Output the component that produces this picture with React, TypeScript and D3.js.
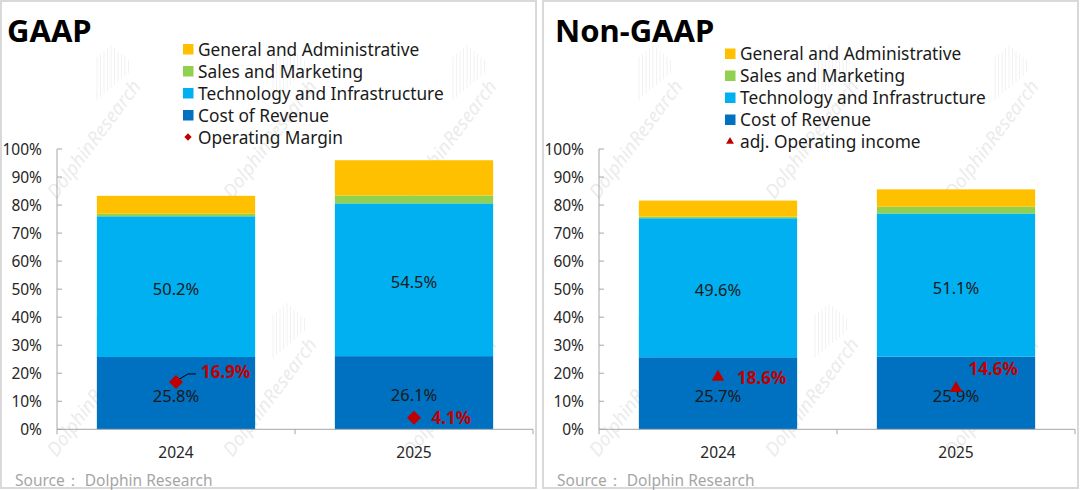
import { useEffect } from "react";
import * as d3 from "d3";

const categories = ["2024", "2025"];
const tickValues = [0, 10, 20, 30, 40, 50, 60, 70, 80, 90, 100];
const seriesNames = [
  "General and Administrative",
  "Sales and Marketing",
  "Technology and Infrastructure",
  "Cost of Revenue",
];
const seriesColors = ["#ffc000", "#92d050", "#00b0f0", "#0070c0"];

// GAAP, % of revenue
const gaapCost = [25.8, 26.1];
const gaapTech = [50.2, 54.5];
const gaapSales = [0.9, 2.8];
const gaapAdmin = [6.4, 12.6];
const gaapMargin = [16.9, 4.1];

// Non-GAAP, % of revenue
const nonGaapCost = [25.7, 25.9];
const nonGaapTech = [49.6, 51.1];
const nonGaapSales = [0.6, 2.4];
const nonGaapAdmin = [5.7, 6.2];
const nonGaapMargin = [18.6, 14.6];

const FONT = "'Noto Sans', 'DejaVu Sans', sans-serif";
const RED = "#c00000";

type PanelProps = {
  x0: number;
  title: string;
  marginName: string;
  marker: "diamond" | "triangle";
  cost: number[];
  tech: number[];
  sales: number[];
  admin: number[];
  margin: number[];
  labelOffsets: [number, number][];
  leader: boolean[];
  legendY: number;
};

function Panel(p: PanelProps) {
  const x = d3.scaleBand<string>().domain(categories).range([57, 533]).paddingInner(0.335).paddingOuter(0.1675);
  const y = d3.scaleLinear().domain([0, 100]).range([429.3, 149]);

  const rows = categories.map((c, i) => ({
    cat: c,
    values: [p.cost[i], p.tech[i], p.sales[i], p.admin[i]],
  }));
  // bottom-up order: cost, tech, sales, admin
  const stackColors = [seriesColors[3], seriesColors[2], seriesColors[1], seriesColors[0]];
  const stack = d3.stack<{ cat: string; values: number[] }, number>()
    .keys([0, 1, 2, 3])
    .value((d, k) => d.values[k]);
  const layers = stack(rows);

  const markerPath = p.marker === "diamond"
    ? d3.symbol(d3.symbolDiamond2, 125)()
    : d3.symbol(d3.symbolTriangle2, 115)();
  const legendMarker = p.marker === "diamond"
    ? d3.symbol(d3.symbolDiamond2, 34)()
    : d3.symbol(d3.symbolTriangle2, 44)();

  const legendItems = [...seriesNames, p.marginName];

  return (
    <g transform={`translate(${p.x0},0)`}>
      <rect x={1} y={1} width={535} height={487} fill="#fff" stroke="#d9d9d9" strokeWidth={2} />

      {/* watermark */}
      <g fill="#ececec" fontFamily={FONT} fontStyle="italic" fontSize={19}>
        {[95, 271, 451].map((wx) =>
          [140, 398].map((wy) => (
            <g key={`${wx}-${wy}`}>
              <text x={wx} y={wy} textAnchor="middle" dominantBaseline="middle" transform={`rotate(-53 ${wx} ${wy})`}>
                DolphinResearch
              </text>
              {d3.range(10).map((k) => (
                <line
                  key={k}
                  x1={wx + 2 + k * 3.5}
                  x2={wx + 2 + k * 3.5}
                  y1={wy - 95 + Math.abs(k - 4) * 3}
                  y2={wy - 40 - k * 3}
                  stroke="#f2f2f2"
                  strokeWidth={1}
                />
              ))}
            </g>
          ))
        )}
      </g>

      <text x={p.x0 === 0 ? 7 : 13} y={42} fontFamily={FONT} fontWeight="bold" fontSize={31} fill="#000">
        {p.title}
      </text>

      {/* legend */}
      <g fontFamily={FONT} fontSize={17.3} fill="#1a1a1a">
        {legendItems.map((name, i) => {
          const ly = p.legendY + i * 22;
          return (
            <g key={name}>
              {i < 4 ? (
                <rect x={183} y={ly - 5} width={10.5} height={10.5} fill={seriesColors[i]} />
              ) : (
                <path d={legendMarker} transform={`translate(188,${ly})`} fill={RED} />
              )}
              <text x={198} y={ly} dominantBaseline="central">
                {name}
              </text>
            </g>
          );
        })}
      </g>

      {/* bars */}
      {layers.map((layer, li) => (
        <g key={li} fill={stackColors[li]}>
          {layer.map((d) => (
            <rect
              key={d.data.cat}
              x={x(d.data.cat)}
              y={y(d[1])}
              width={x.bandwidth()}
              height={y(d[0]) - y(d[1])}
            />
          ))}
        </g>
      ))}

      {/* segment labels for cost and tech */}
      <g fontFamily={FONT} fontSize={16.5} fill="#1a1a1a" textAnchor="middle">
        {layers.slice(0, 2).map((layer, li) =>
          layer.map((d) => (
            <text
              key={`${li}-${d.data.cat}`}
              x={(x(d.data.cat) ?? 0) + x.bandwidth() / 2}
              y={y((d[0] + d[1]) / 2) + 2}
              dominantBaseline="central"
            >
              {(d[1] - d[0]).toFixed(1)}%
            </text>
          ))
        )}
      </g>

      {/* axes */}
      <g stroke="#a6a6a6" strokeWidth={1} fill="none">
        <line x1={57} x2={57} y1={y(100)} y2={y(0)} />
        {tickValues.map((t) => (
          <line key={t} x1={57} x2={62} y1={y(t)} y2={y(t)} />
        ))}
        <line x1={57} x2={533} y1={y(0)} y2={y(0)} />
        {[57, ...categories.slice(1).map((c) => (x(c) ?? 0) - (x.step() * x.paddingInner()) / 2), 533].map((tx) => (
          <line key={tx} x1={tx} x2={tx} y1={y(0)} y2={y(0) + 5} />
        ))}
      </g>
      <g fontFamily={FONT} fontSize={15.5} fill="#262626">
        {tickValues.map((t) => (
          <text key={t} x={42} y={y(t)} textAnchor="end" dominantBaseline="central">
            {t}%
          </text>
        ))}
        {categories.map((c) => (
          <text key={c} x={(x(c) ?? 0) + x.bandwidth() / 2} y={452} textAnchor="middle" dominantBaseline="central">
            {c}
          </text>
        ))}
      </g>

      {/* margin markers */}
      {categories.map((c, i) => {
        const mx = (x(c) ?? 0) + x.bandwidth() / 2;
        const my = y(p.margin[i]);
        const [dx, dy] = p.labelOffsets[i];
        return (
          <g key={c}>
            {p.leader[i] && (
              <polyline
                points={`${mx + 2},${my - 2} ${mx + 12},${my + dy + 2} ${mx + dx - 5},${my + dy + 2}`}
                fill="none"
                stroke="#000"
                strokeWidth={1}
              />
            )}
            <path d={markerPath} transform={`translate(${mx},${my})`} fill={RED} />
            <text
              x={mx + dx}
              y={my + dy}
              fontFamily={FONT}
              fontWeight="bold"
              fontSize={17}
              fill={RED}
              dominantBaseline="central"
            >
              {p.margin[i].toFixed(1)}%
            </text>
          </g>
        );
      })}

      <text x={15} y={480} fontFamily={FONT} fontSize={15.5} fill="#a6a6a6" dominantBaseline="central">
        Source：&nbsp;Dolphin Research
      </text>
    </g>
  );
}

export default function App() {
  useEffect(() => {
    document.body.style.margin = "0";
  }, []);

  return (
    <svg width={1080} height={490} viewBox="0 0 1080 490" style={{ display: "block", background: "#fff" }}>
      <Panel
        x0={0}
        title="GAAP"
        marginName="Operating Margin"
        marker="diamond"
        cost={gaapCost}
        tech={gaapTech}
        sales={gaapSales}
        admin={gaapAdmin}
        margin={gaapMargin}
        labelOffsets={[[25, -10], [17.5, 0]]}
        leader={[true, false]}
        legendY={49}
      />
      <Panel
        x0={542}
        title="Non-GAAP"
        marginName="adj. Operating income"
        marker="triangle"
        cost={nonGaapCost}
        tech={nonGaapTech}
        sales={nonGaapSales}
        admin={nonGaapAdmin}
        margin={nonGaapMargin}
        labelOffsets={[[19, 0], [12.6, -20]]}
        leader={[false, false]}
        legendY={53.5}
      />
    </svg>
  );
}
